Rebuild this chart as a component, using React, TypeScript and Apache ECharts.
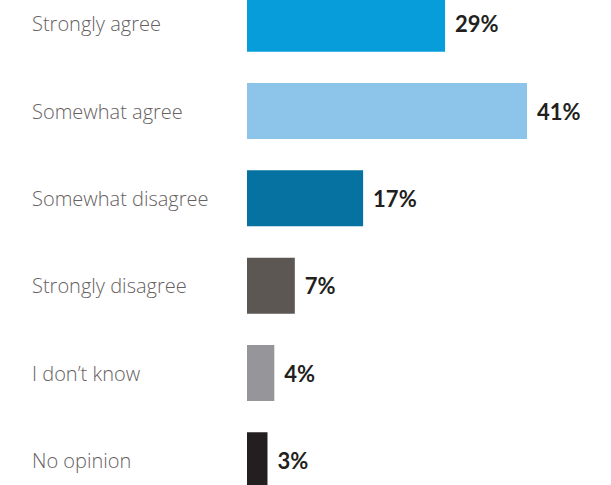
import React, { useEffect, useRef } from "react";
import * as echarts from "echarts";

const categories = ["Strongly agree", "Somewhat agree", "Somewhat disagree", "Strongly disagree", "I don’t know", "No opinion"];
const values = [29, 41, 17, 7, 4, 3];
const colors = ["#079ddb", "#8dc4ea", "#0572a1", "#5d5753", "#96969a", "#231f20"];

export default function App() {
  const ref = useRef<HTMLDivElement>(null);
  useEffect(() => {
    const chart = echarts.init(ref.current!, null, { renderer: "svg" });
    chart.setOption({
      animation: false,
      backgroundColor: "#ffffff",
      grid: { left: 247, top: 0, width: 341.5, height: 524, containLabel: false },
      xAxis: { type: "value", min: 0, max: 50, show: false },
      yAxis: {
        type: "category",
        data: categories,
        inverse: true,
        axisLine: { show: false },
        axisTick: { show: false },
        splitLine: { show: false },
        axisLabel: {
          align: "left",
          margin: 215,
          color: "#66615f",
          fontFamily: "Open Sans",
          fontWeight: 300,
          fontSize: 20,
          padding: [3, 0, 0, 0],
        },
      },
      series: [
        {
          type: "bar",
          barWidth: 56,
          data: values.map((v, i) => ({ value: v, itemStyle: { color: colors[i] } })),
          label: {
            show: true,
            position: "right",
            distance: 10,
            formatter: "{c}%",
            color: "#231f20",
            fontFamily: "Lato",
            fontWeight: "bold",
            fontSize: 22,
          },
        },
      ],
    });
    return () => chart.dispose();
  }, []);
  return <div ref={ref} style={{ position: "fixed", left: 0, top: -20, width: 611, height: 524 }} />;
}
